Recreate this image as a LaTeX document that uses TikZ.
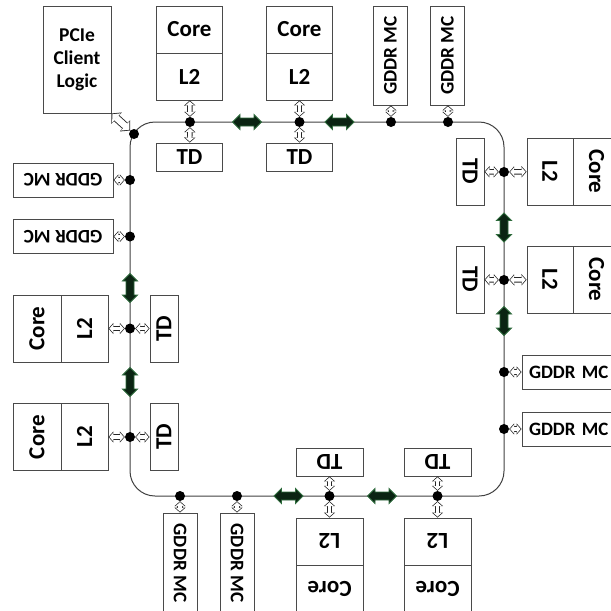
\documentclass[tikz,border=0pt]{standalone}
\usepackage{fontspec}
\setmainfont{Carlito}
\usetikzlibrary{arrows.meta}
\definecolor{garfill}{HTML}{0B2413}
\definecolor{garline}{HTML}{2E6B3C}
\definecolor{boxline}{HTML}{4A4A4A}
\tikzset{
  box/.style={draw=boxline, line width=0.9pt, inner sep=0pt, fill=white,
    font=\fontsize{23}{25}\selectfont\bfseries},
  gbox/.style={box, minimum width=100pt, minimum height=34pt,
    font=\fontsize{19.2}{21}\selectfont\bfseries},
  grbox/.style={gbox, text width=86pt, align=left,
    font=\fontsize{18.9}{21}\selectfont\bfseries},
  cbox/.style={box, minimum width=66pt, minimum height=47pt},
  tbox/.style={box, minimum width=66pt, minimum height=28pt},
  dot/.style={circle, fill=black, inner sep=0pt, minimum size=10pt},
  ring/.style={draw=black!75, line width=1pt},
  hol/.style={draw=black!85, line width=5.4pt,
    {Triangle[width=11pt,length=5pt]}-{Triangle[width=11pt,length=5pt]},
    postaction={draw=white, line width=3.6pt, shorten >=1pt, shorten <=1pt,
      {Triangle[width=8.4pt,length=3.8pt]}-{Triangle[width=8.4pt,length=3.8pt]}}},
  bighol/.style={draw=black!85, line width=8pt,
    {Triangle[width=15pt,length=7pt]}-{Triangle[width=15pt,length=7pt]},
    postaction={draw=white, line width=6.2pt, shorten >=1.2pt, shorten <=1.2pt,
      {Triangle[width=12.2pt,length=5.5pt]}-{Triangle[width=12.2pt,length=5.5pt]}}},
  garrow/.pic={\filldraw[fill=garfill, draw=garline, line width=0.9pt]
    (-14.5,0) -- (-7,7.5) -- (-7,4) -- (7,4) -- (7,7.5) -- (14.5,0)
    -- (7,-7.5) -- (7,-4) -- (-7,-4) -- (-7,-7.5) -- cycle;}
}
\begin{document}
\begin{tikzpicture}[x=1pt, y=-1pt]
\useasboundingbox (0,0) rectangle (611,611);
\clip (0,0) rectangle (611,611);
% ring
\draw[ring, rounded corners=25pt] (130,122) rectangle (504,496);
% PCIe
\node[box, minimum width=68pt, minimum height=107pt, align=center,
  font=\fontsize{19.5}{23}\selectfont\bfseries] (pcie) at (77,59.5) {PCIe\\Client\\Logic};
\node[dot] (dpc) at (134,134) {};
% top
\node[cbox] (corea) at (189.5,29.5) {Core};
\node[cbox] (l2a) at (189.5,76.5) {L2};
\node[tbox] (tda) at (189.5,157) {TD};
\node[dot] (da) at (190,122) {};
\node[cbox] (coreb) at (299.5,29.5) {Core};
\node[cbox] (l2b) at (299.5,76.5) {L2};
\node[tbox] (tdb) at (299.5,157) {TD};
\node[dot] (db) at (299.5,122) {};
\node[gbox, minimum width=99pt, rotate=90] (gt1) at (390.5,55.5) {GDDR MC};
\node[dot] (dgt1) at (391,122) {};
\node[gbox, minimum width=99pt, rotate=90] (gt2) at (447.5,55.5) {GDDR MC};
\node[dot] (dgt2) at (448,122) {};
\pic at (247,122) {garrow};
\pic at (339.5,122) {garrow};
% right
\node[tbox, minimum width=67pt, rotate=-90] (tdc) at (470,171.5) {TD};
\node[cbox, minimum width=67pt, minimum height=46pt, rotate=-90] (l2c) at (550,171.5) {L2};
\node[cbox, minimum width=67pt, rotate=-90] (corec) at (596.5,171.5) {Core};
\node[dot] (dc) at (504,172) {};
\pic[rotate=90] at (504,227.5) {garrow};
\node[tbox, minimum width=67pt, rotate=-90] (tdd) at (470,279.5) {TD};
\node[cbox, minimum width=67pt, minimum height=46pt, rotate=-90] (l2d) at (550,279.5) {L2};
\node[cbox, minimum width=67pt, rotate=-90] (cored) at (596.5,279.5) {Core};
\node[dot] (dd) at (504,280) {};
\pic[rotate=90] at (504,321) {garrow};
\node[grbox] (gr1) at (572,372) {\mbox{GDDR MC}};
\node[dot] (dgr1) at (504,372) {};
\node[grbox] (gr2) at (572,429) {\mbox{GDDR MC}};
\node[dot] (dgr2) at (504,429) {};
% bottom
\node[gbox, rotate=-90] (gb1) at (180,563) {GDDR MC};
\node[dot] (dgb1) at (180,496) {};
\node[gbox, rotate=-90] (gb2) at (237,563) {GDDR MC};
\node[dot] (dgb2) at (237,496) {};
\pic at (288.5,496) {garrow};
\pic at (382,496) {garrow};
\node[tbox, minimum width=67pt, rotate=180] (tde) at (329.5,462) {TD};
\node[cbox, minimum width=67pt, rotate=180] (l2e) at (329.5,541.5) {L2};
\node[cbox, minimum width=67pt, rotate=180] (coree) at (329.5,588.5) {Core};
\node[dot] (de) at (329.5,496) {};
\node[tbox, minimum width=67pt, rotate=180] (tdf) at (437.5,462) {TD};
\node[cbox, minimum width=67pt, rotate=180] (l2f) at (437.5,541.5) {L2};
\node[cbox, minimum width=67pt, rotate=180] (coref) at (437.5,588.5) {Core};
\node[dot] (df) at (437.5,496) {};
% left
\node[gbox, rotate=180] (gl1) at (63,180) {GDDR MC};
\node[dot] (dgl1) at (130,180) {};
\node[gbox, rotate=180] (gl2) at (63,236.5) {GDDR MC};
\node[dot] (dgl2) at (130,236.5) {};
\pic[rotate=90] at (130,288) {garrow};
\pic[rotate=90] at (130,382) {garrow};
\node[cbox, minimum width=67pt, minimum height=48pt, rotate=90] (coreg) at (37,328.5) {Core};
\node[cbox, minimum width=67pt, rotate=90] (l2g) at (84.5,328.5) {L2};
\node[tbox, minimum width=67pt, rotate=90] (tdg) at (164,328.5) {TD};
\node[dot] (dg) at (130,328.5) {};
\node[cbox, minimum width=67pt, minimum height=48pt, rotate=90] (coreh) at (37,437) {Core};
\node[cbox, minimum width=67pt, rotate=90] (l2h) at (84.5,437) {L2};
\node[tbox, minimum width=67pt, rotate=90] (tdh) at (164,437) {TD};
\node[dot] (dh) at (130,437) {};
% hollow connectors
\draw[bighol] (pcie.south east) -- (dpc);
\foreach \a/\d/\t in {l2a/da/tda, l2b/db/tdb, l2c/dc/tdc, l2d/dd/tdd,
                      l2e/de/tde, l2f/df/tdf, l2g/dg/tdg, l2h/dh/tdh} {
  \draw[hol] (\a) -- (\d);
  \draw[hol] (\d) -- (\t);
}
\foreach \g/\d in {gt1/dgt1, gt2/dgt2, gr1/dgr1, gr2/dgr2,
                   gb1/dgb1, gb2/dgb2, gl1/dgl1, gl2/dgl2} {
  \draw[hol] (\g) -- (\d);
}
\end{tikzpicture}
\end{document}
